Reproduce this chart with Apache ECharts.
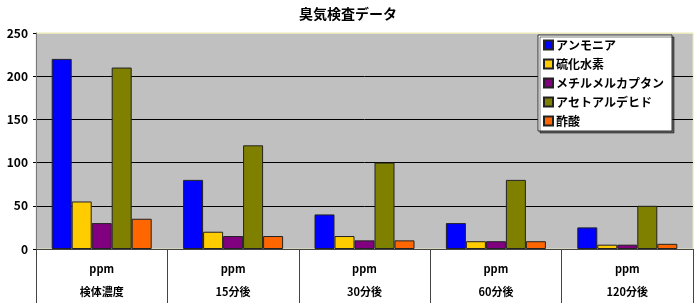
<!DOCTYPE html>
<html>
<head>
<meta charset="utf-8">
<script src="https://cdn.jsdelivr.net/npm/echarts@6/dist/echarts.min.js"></script>
<style>
  html, body { margin: 0; padding: 0; background: #fff; }
  #chart { width: 696px; height: 303px; }
</style>
</head>
<body>
<div id="chart"></div>
<script>
var categories = ['検体濃度', '15分後', '30分後', '60分後', '120分後'];
var unitLabel = 'ppm';
var seriesNames = ['アンモニア', '硫化水素', 'メチルメルカプタン', 'アセトアルデヒド', '酢酸'];
var ammonia = [220, 80, 40, 30, 25];
var hydrogenSulfide = [55, 20, 15, 9, 5];
var methylMercaptan = [30, 15, 10, 9, 5];
var acetaldehyde = [210, 120, 100, 80, 50];
var aceticAcid = [35, 15, 10, 9, 6];
var colors = ['#0000FF', '#FFCC00', '#800080', '#808000', '#FF6600'];

var font = '"Noto Sans CJK JP", "DejaVu Sans", sans-serif';
var allValues = [ammonia, hydrogenSulfide, methylMercaptan, acetaldehyde, aceticAcid];

var myChart = echarts.init(document.getElementById('chart'));

var series = [];
for (var i = 0; i < seriesNames.length; i++) {
	series.push({
		name: seriesNames[i],
		type: 'bar',
		barWidth: 20,
		barGap: '0%',
		itemStyle: { color: colors[i], borderColor: '#222', borderWidth: 1 },
		data: allValues[i]
	});
}

var option = {
	animation: false,
	textStyle: { fontFamily: font },
	title: {
		text: '臭気検査データ',
		left: 'center',
		top: 2,
		textStyle: { fontSize: 14, fontWeight: 'bold', color: '#000', fontFamily: font }
	},
	legend: {
		orient: 'vertical',
		left: 538,
		top: 35,
		backgroundColor: '#fff',
		borderColor: '#333',
		borderWidth: 1,
		shadowColor: 'rgba(0,0,0,0.5)',
		shadowOffsetX: 2,
		shadowOffsetY: 2,
		shadowBlur: 0,
		padding: [4, 8, 4, 5],
		itemWidth: 9,
		itemHeight: 9,
		itemGap: 7,
		icon: 'rect',
		textStyle: { fontSize: 12, fontWeight: 'bold', color: '#000', fontFamily: font, padding: [0, 0, 0, -2] },
		data: seriesNames
	},
	grid: {
		left: 36,
		right: 3,
		top: 33,
		bottom: 54,
		show: true,
		backgroundColor: '#C0C0C0',
		borderColor: '#e8e8b8',
		borderWidth: 1
	},
	xAxis: {
		type: 'category',
		data: categories,
		axisLine: { lineStyle: { color: '#444', width: 1 } },
		axisTick: { show: true, length: 54, lineStyle: { color: '#444' } },
		axisLabel: {
			margin: 8,
			lineHeight: 23,
			fontSize: 11,
			fontWeight: 'bold',
			color: '#000',
			formatter: function (v) { return unitLabel + '\n' + v; }
		}
	},
	yAxis: {
		type: 'value',
		min: 0,
		max: 250,
		interval: 50,
		axisLine: { show: true, lineStyle: { color: '#777' } },
		axisTick: { show: true, length: 3, lineStyle: { color: '#000' } },
		axisLabel: { fontSize: 12, fontWeight: 'bold', color: '#000', margin: 8 },
		splitLine: {
			show: true,
			lineStyle: { color: ['#444', '#000', '#000', '#000', '#000', '#e8e8b8'], width: 1 }
		}
	},
	series: series
};
option && myChart.setOption(option);
</script>
</body>
</html>
